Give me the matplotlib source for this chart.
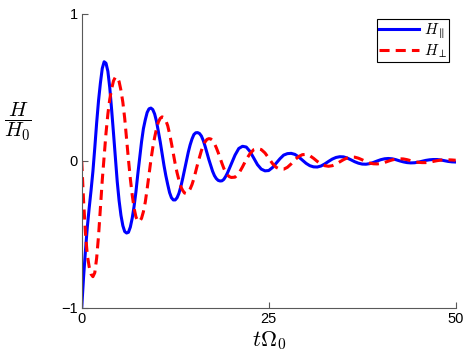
import numpy as np
import matplotlib
matplotlib.use("Agg")
import matplotlib.pyplot as plt

plt.rcParams["font.family"] = ["Liberation Sans", "DejaVu Sans"]
plt.rcParams["mathtext.fontset"] = "cm"

# ── data ──
# t * Omega_0: every 0.25 up to 20 (sharp early swings), every 0.5 after

t = np.concatenate([np.arange(0, 20, 0.25), np.arange(20, 50.01, 0.5)])

h_par = [
    # 0 .. 20 step 0.25
    -1.00, -0.79, -0.61, -0.45, -0.32, -0.20, -0.07, 0.09, 0.26, 0.41,
    0.53, 0.63, 0.675, 0.665, 0.61, 0.50, 0.35, 0.19, 0.02, -0.14,
    -0.27, -0.37, -0.44, -0.48, -0.49, -0.485, -0.45, -0.39, -0.31, -0.21,
    -0.09, 0.02, 0.13, 0.22, 0.28, 0.33, 0.355, 0.36, 0.35, 0.32,
    0.27, 0.20, 0.13, 0.05, -0.03, -0.10, -0.16, -0.215, -0.25, -0.265,
    -0.265, -0.25, -0.22, -0.175, -0.12, -0.06, 0.00, 0.06, 0.11, 0.15,
    0.18, 0.192, 0.193, 0.187, 0.17, 0.14, 0.10, 0.055, 0.01, -0.03,
    -0.07, -0.10, -0.12, -0.132, -0.136, -0.135, -0.125, -0.105, -0.08, -0.05,
    -0.02,
    # 20.5 .. 50 step 0.5
    0.04, 0.085, 0.10, 0.095, 0.065, 0.02, -0.025, -0.055, -0.067, -0.065,
    -0.045, -0.015, 0.015, 0.04, 0.05, 0.052, 0.045, 0.028, 0.006, -0.016,
    -0.032, -0.040, -0.041, -0.034, -0.02, -0.003, 0.013, 0.024, 0.029, 0.028,
    0.02, 0.008, -0.005, -0.015, -0.021, -0.022, -0.018, -0.01, 0.0, 0.009,
    0.015, 0.017, 0.015, 0.009, 0.001, -0.006, -0.011, -0.013, -0.012, -0.008,
    -0.002, 0.004, 0.008, 0.010, 0.010, 0.007, 0.002, -0.003, -0.006, -0.007,
]

h_perp = [
    # 0 .. 20 step 0.25
    0.0, -0.27, -0.49, -0.64, -0.72, -0.77, -0.787, -0.76, -0.66, -0.51,
    -0.32, -0.13, 0.03, 0.19, 0.32, 0.42, 0.49, 0.545, 0.57, 0.57,
    0.54, 0.48, 0.40, 0.29, 0.15, 0.01, -0.12, -0.23, -0.32, -0.38,
    -0.41, -0.41, -0.39, -0.345, -0.28, -0.19, -0.09, 0.005, 0.09, 0.16,
    0.22, 0.265, 0.29, 0.30, 0.295, 0.275, 0.24, 0.185, 0.12, 0.05,
    -0.02, -0.08, -0.13, -0.175, -0.20, -0.218, -0.222, -0.212, -0.19, -0.16,
    -0.12, -0.07, -0.02, 0.025, 0.07, 0.105, 0.13, 0.147, 0.152, 0.15,
    0.14, 0.118, 0.09, 0.057, 0.02, -0.016, -0.05, -0.077, -0.095, -0.107,
    -0.112,
    # 20.5 .. 50 step 0.5
    -0.11, -0.085, -0.04, 0.01, 0.05, 0.077, 0.084, 0.078, 0.055, 0.02,
    -0.017, -0.043, -0.056, -0.056, -0.043, -0.02, 0.008, 0.03, 0.043, 0.045,
    0.036, 0.018, -0.003, -0.021, -0.032, -0.036, -0.032, -0.021, -0.006, 0.009,
    0.021, 0.027, 0.026, 0.019, 0.008, -0.004, -0.014, -0.019, -0.02, -0.017,
    -0.01, -0.001, 0.007, 0.013, 0.015, 0.014, 0.009, 0.002, -0.005, -0.009,
    -0.011, -0.011, -0.008, -0.003, 0.002, 0.006, 0.008, 0.008, 0.007, 0.005,
]

x_ticks = [0, 25, 50]
y_ticks = [-1, 0, 1]

# ── figure ──

fig = plt.figure(figsize=(4.69, 3.57), dpi=100)
ax = fig.add_axes([0.1742, 0.1373, 0.7974, 0.8235])

ax.plot(t, h_par, color="blue", lw=2.2, label=r"$H_\parallel$")
ax.plot(t, h_perp, color="red", lw=2.2, linestyle=(0, (3.3, 2.0)),
        label=r"$H_\perp$")

ax.set_xlim(0, 50)
ax.set_ylim(-1, 1)
ax.set_xticks(x_ticks)
ax.set_yticks(y_ticks)
ax.set_xticklabels([str(v) for v in x_ticks])
ax.set_yticklabels(["\u22121", "0", "1"])

for side in ["top", "right"]:
    ax.spines[side].set_visible(False)
for side in ["left", "bottom"]:
    ax.spines[side].set_color("0.35")
    ax.spines[side].set_linewidth(0.8)
ax.tick_params(direction="in", length=4, width=0.8, color="0.35",
               labelsize=10.5, pad=3)

ax.set_xlabel(r"$t\Omega_0$", fontsize=16, labelpad=2)
ax.set_ylabel(r"$\dfrac{H}{H_0}$", fontsize=15, rotation=0, labelpad=0)
ax.yaxis.set_label_coords(-0.17, 0.56)

leg = ax.legend(loc="upper right", bbox_to_anchor=(0.983, 0.982),
                borderaxespad=0, fontsize=11, fancybox=False,
                edgecolor="black", framealpha=1, handlelength=2.6,
                borderpad=0.15, labelspacing=0.1, handletextpad=0.3)
leg.get_frame().set_linewidth(0.8)

fig.savefig("out.png", dpi=100)
